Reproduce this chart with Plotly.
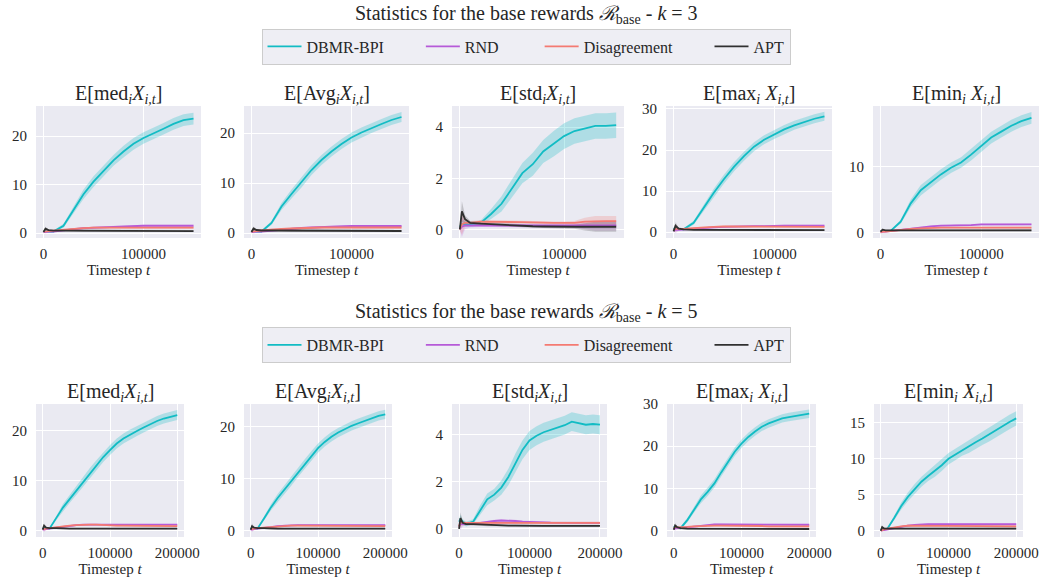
import plotly.graph_objects as go

# ---------------- data ----------------
T3 = [0, 2000, 5000, 10000, 20000, 30000, 40000, 50000, 60000, 70000, 80000,
      90000, 100000, 110000, 120000, 130000, 140000, 150000]
T5 = [0, 2000, 5000, 10000, 20000, 30000, 40000, 50000, 60000, 70000, 80000,
      90000, 100000, 110000, 120000, 130000, 140000, 150000, 160000, 170000,
      180000, 190000, 200000]

METHODS = ["DBMR-BPI", "RND", "Disagreement", "APT"]

# k = 3
MED3_DBMR = [0.3, 0.4, 0.3, 0.3, 1.5, 4.8, 8.0, 10.6, 12.8, 15.0, 16.8, 18.4, 19.6, 20.5, 21.5, 22.5, 23.3, 23.6]
MED3_DBMR_SD = [0.2, 0.3, 0.2, 0.2, 0.4, 0.8, 1.0, 1.1, 1.1, 1.1, 1.2, 1.2, 1.2, 1.2, 1.2, 1.2, 1.2, 1.2]
MED3_RND = [0.2, 0.3, 0.3, 0.3, 0.6, 0.8, 1.0, 1.1, 1.2, 1.3, 1.4, 1.5, 1.5, 1.5, 1.5, 1.5, 1.5, 1.5]
MED3_DIS = [0.3, 0.4, 0.4, 0.5, 0.7, 0.9, 1.0, 1.1, 1.1, 1.2, 1.2, 1.2, 1.1, 1.1, 1.1, 1.1, 1.1, 1.1]
MED3_APT = [0.2, 0.9, 0.6, 0.5, 0.5, 0.5, 0.4, 0.4, 0.4, 0.4, 0.4, 0.4, 0.4, 0.4, 0.4, 0.4, 0.4, 0.4]
MED3_BASE_SD = [0.1, 0.4, 0.2, 0.1, 0.2, 0.2, 0.2, 0.2, 0.2, 0.2, 0.2, 0.2, 0.2, 0.2, 0.2, 0.2, 0.2, 0.2]

AVG3_DBMR = [0.3, 0.4, 0.3, 0.3, 2.0, 5.3, 7.8, 10.1, 12.6, 14.6, 16.3, 17.8, 19.1, 20.1, 21.0, 21.8, 22.6, 23.2]
AVG3_DBMR_SD = [0.2, 0.3, 0.2, 0.2, 0.4, 0.7, 0.9, 1.0, 1.0, 1.0, 1.0, 1.0, 1.0, 1.0, 1.0, 1.0, 1.0, 1.0]
AVG3_RND = [0.2, 0.3, 0.3, 0.3, 0.5, 0.7, 0.9, 1.0, 1.1, 1.2, 1.3, 1.4, 1.4, 1.4, 1.4, 1.4, 1.4, 1.4]
AVG3_DIS = [0.3, 0.4, 0.4, 0.5, 0.7, 0.8, 0.9, 1.0, 1.0, 1.1, 1.1, 1.1, 1.1, 1.1, 1.1, 1.1, 1.1, 1.1]
AVG3_APT = [0.2, 0.9, 0.6, 0.5, 0.5, 0.5, 0.4, 0.4, 0.4, 0.4, 0.4, 0.4, 0.4, 0.4, 0.4, 0.4, 0.4, 0.4]
AVG3_BASE_SD = [0.1, 0.4, 0.2, 0.1, 0.2, 0.2, 0.2, 0.2, 0.2, 0.2, 0.2, 0.2, 0.2, 0.2, 0.2, 0.2, 0.2, 0.2]

STD3_DBMR = [0.1, 0.2, 0.2, 0.2, 0.25, 0.6, 1.0, 1.6, 2.2, 2.55, 3.05, 3.35, 3.65, 3.85, 3.95, 4.05, 4.05, 4.08]
STD3_DBMR_SD = [0.05, 0.1, 0.1, 0.1, 0.1, 0.2, 0.3, 0.35, 0.4, 0.45, 0.45, 0.5, 0.5, 0.5, 0.5, 0.5, 0.5, 0.5]
STD3_RND = [0.0, 0.1, 0.15, 0.15, 0.15, 0.15, 0.15, 0.15, 0.15, 0.15, 0.15, 0.15, 0.15, 0.15, 0.15, 0.15, 0.15, 0.15]
STD3_DIS = [0.0, 0.2, 0.25, 0.25, 0.3, 0.3, 0.3, 0.3, 0.28, 0.27, 0.25, 0.25, 0.25, 0.25, 0.3, 0.32, 0.32, 0.32]
STD3_APT = [0.0, 0.7, 0.4, 0.25, 0.22, 0.2, 0.16, 0.14, 0.12, 0.12, 0.11, 0.1, 0.1, 0.1, 0.1, 0.1, 0.1, 0.1]
STD3_BASE_SD = [0.05, 0.4, 0.15, 0.08, 0.06, 0.06, 0.06, 0.06, 0.06, 0.06, 0.06, 0.06, 0.06, 0.08, 0.15, 0.2, 0.2, 0.2]

MAX3_DBMR = [0.8, 1.0, 0.8, 0.7, 2.3, 6.0, 9.6, 12.9, 15.9, 18.5, 20.8, 22.5, 23.8, 25.0, 26.0, 26.8, 27.6, 28.2]
MAX3_DBMR_SD = [0.3, 0.6, 0.3, 0.3, 0.5, 0.8, 1.0, 1.1, 1.1, 1.1, 1.1, 1.1, 1.1, 1.1, 1.1, 1.1, 1.1, 1.1]
MAX3_RND = [0.3, 0.6, 0.6, 0.7, 0.9, 1.1, 1.2, 1.3, 1.4, 1.5, 1.5, 1.5, 1.6, 1.6, 1.6, 1.6, 1.6, 1.6]
MAX3_DIS = [0.5, 0.9, 0.8, 0.8, 1.0, 1.2, 1.3, 1.4, 1.4, 1.4, 1.4, 1.4, 1.3, 1.3, 1.3, 1.3, 1.3, 1.3]
MAX3_APT = [0.2, 1.6, 0.9, 0.7, 0.6, 0.6, 0.5, 0.5, 0.5, 0.5, 0.5, 0.5, 0.5, 0.5, 0.5, 0.5, 0.5, 0.5]
MAX3_BASE_SD = [0.1, 0.8, 0.3, 0.2, 0.2, 0.2, 0.2, 0.2, 0.2, 0.2, 0.2, 0.2, 0.2, 0.2, 0.2, 0.2, 0.2, 0.2]

MIN3_DBMR = [0.1, 0.2, 0.2, 0.2, 1.6, 4.4, 6.4, 7.6, 8.8, 9.8, 10.6, 11.8, 13.1, 14.4, 15.3, 16.2, 16.9, 17.4]
MIN3_DBMR_SD = [0.1, 0.1, 0.1, 0.1, 0.3, 0.6, 0.8, 0.8, 0.8, 0.8, 0.8, 0.9, 0.9, 0.9, 0.9, 0.9, 0.9, 0.9]
MIN3_RND = [0.0, 0.1, 0.1, 0.2, 0.4, 0.6, 0.8, 0.9, 1.0, 1.0, 1.1, 1.1, 1.2, 1.2, 1.2, 1.2, 1.2, 1.2]
MIN3_DIS = [0.0, 0.1, 0.1, 0.2, 0.4, 0.5, 0.6, 0.7, 0.7, 0.7, 0.7, 0.7, 0.7, 0.7, 0.7, 0.7, 0.7, 0.7]
MIN3_APT = [0.1, 0.4, 0.3, 0.3, 0.3, 0.3, 0.3, 0.3, 0.3, 0.3, 0.3, 0.3, 0.3, 0.3, 0.3, 0.3, 0.3, 0.3]
MIN3_BASE_SD = [0.05, 0.2, 0.1, 0.1, 0.1, 0.1, 0.12, 0.12, 0.12, 0.12, 0.15, 0.15, 0.15, 0.15, 0.15, 0.15, 0.15, 0.15]

# k = 5
MED5_DBMR = [0.3, 0.6, 0.4, 0.4, 2.5, 4.6, 6.3, 8.0, 9.8, 11.5, 13.1, 14.7, 16.1, 17.4, 18.4, 19.2, 19.9, 20.6, 21.3, 21.9, 22.4, 22.8, 23.1]
MED5_DBMR_SD = [0.2, 0.3, 0.2, 0.2, 0.4, 0.7, 0.8, 0.9, 1.0, 1.0, 1.0, 1.0, 1.0, 1.0, 1.0, 1.0, 1.0, 1.0, 1.0, 1.0, 1.0, 1.0, 1.0]
MED5_RND = [0.2, 0.3, 0.3, 0.4, 0.6, 0.8, 1.0, 1.1, 1.2, 1.2, 1.2, 1.2, 1.2, 1.2, 1.2, 1.2, 1.2, 1.2, 1.2, 1.2, 1.2, 1.2, 1.2]
MED5_DIS = [0.3, 0.4, 0.4, 0.5, 0.7, 0.9, 1.0, 1.1, 1.2, 1.2, 1.2, 1.1, 1.1, 1.0, 1.0, 1.0, 1.0, 0.9, 0.9, 0.9, 0.9, 0.9, 0.9]
MED5_APT = [0.2, 1.0, 0.6, 0.5, 0.5, 0.4, 0.4, 0.4, 0.4, 0.4, 0.4, 0.4, 0.4, 0.4, 0.4, 0.4, 0.4, 0.4, 0.4, 0.4, 0.4, 0.4, 0.4]
MED5_BASE_SD = [0.1, 0.5, 0.2, 0.1, 0.15, 0.15, 0.15, 0.15, 0.15, 0.15, 0.15, 0.15, 0.15, 0.15, 0.15, 0.15, 0.15, 0.15, 0.15, 0.15, 0.15, 0.15, 0.15]

AVG5_DBMR = [0.3, 0.6, 0.4, 0.4, 2.4, 4.5, 6.3, 7.9, 9.5, 11.2, 12.8, 14.4, 15.9, 17.1, 18.1, 18.9, 19.6, 20.2, 20.7, 21.2, 21.7, 22.1, 22.4]
AVG5_DBMR_SD = [0.2, 0.3, 0.2, 0.2, 0.4, 0.6, 0.8, 0.9, 0.9, 0.9, 0.9, 0.9, 0.9, 0.9, 0.9, 0.9, 0.9, 0.9, 0.9, 0.9, 0.9, 0.9, 0.9]
AVG5_RND = [0.2, 0.3, 0.3, 0.4, 0.5, 0.7, 0.9, 1.0, 1.1, 1.1, 1.1, 1.1, 1.1, 1.1, 1.1, 1.1, 1.1, 1.1, 1.1, 1.1, 1.1, 1.1, 1.1]
AVG5_DIS = [0.3, 0.4, 0.4, 0.5, 0.6, 0.8, 0.9, 1.0, 1.0, 1.0, 1.0, 1.0, 1.0, 0.9, 0.9, 0.9, 0.9, 0.9, 0.9, 0.9, 0.9, 0.9, 0.9]
AVG5_APT = [0.2, 0.9, 0.6, 0.5, 0.5, 0.4, 0.4, 0.4, 0.4, 0.4, 0.4, 0.4, 0.4, 0.4, 0.4, 0.4, 0.4, 0.4, 0.4, 0.4, 0.4, 0.4, 0.4]
AVG5_BASE_SD = [0.1, 0.5, 0.2, 0.1, 0.15, 0.15, 0.15, 0.15, 0.15, 0.15, 0.15, 0.15, 0.15, 0.15, 0.15, 0.15, 0.15, 0.15, 0.15, 0.15, 0.15, 0.15, 0.15]

STD5_DBMR = [0.3, 0.4, 0.3, 0.2, 0.3, 0.8, 1.25, 1.45, 1.75, 2.2, 2.8, 3.35, 3.75, 3.95, 4.1, 4.2, 4.3, 4.4, 4.55, 4.5, 4.42, 4.45, 4.42]
STD5_DBMR_SD = [0.1, 0.2, 0.1, 0.1, 0.1, 0.2, 0.25, 0.25, 0.3, 0.35, 0.4, 0.4, 0.4, 0.4, 0.4, 0.4, 0.4, 0.4, 0.4, 0.4, 0.4, 0.4, 0.4]
STD5_RND = [0.1, 0.2, 0.2, 0.2, 0.2, 0.25, 0.3, 0.33, 0.35, 0.35, 0.33, 0.3, 0.3, 0.28, 0.27, 0.26, 0.25, 0.25, 0.25, 0.25, 0.25, 0.25, 0.25]
STD5_DIS = [0.1, 0.3, 0.25, 0.25, 0.25, 0.25, 0.25, 0.25, 0.25, 0.25, 0.25, 0.25, 0.25, 0.25, 0.25, 0.25, 0.25, 0.25, 0.25, 0.25, 0.25, 0.25, 0.25]
STD5_APT = [0.0, 0.45, 0.25, 0.2, 0.2, 0.18, 0.16, 0.15, 0.14, 0.13, 0.13, 0.12, 0.12, 0.12, 0.12, 0.12, 0.12, 0.12, 0.12, 0.12, 0.12, 0.12, 0.12]
STD5_BASE_SD = [0.05, 0.25, 0.1, 0.05, 0.05, 0.05, 0.05, 0.05, 0.05, 0.05, 0.05, 0.05, 0.05, 0.05, 0.05, 0.05, 0.05, 0.05, 0.05, 0.05, 0.05, 0.05, 0.05]

MAX5_DBMR = [0.8, 1.0, 0.8, 0.6, 2.5, 5.0, 7.4, 9.2, 11.2, 13.8, 16.4, 18.7, 20.6, 22.2, 23.5, 24.6, 25.4, 26.0, 26.6, 26.9, 27.2, 27.5, 27.7]
MAX5_DBMR_SD = [0.3, 0.5, 0.3, 0.3, 0.5, 0.7, 0.9, 1.0, 1.0, 1.0, 1.0, 1.0, 1.0, 1.0, 1.0, 1.0, 1.0, 1.0, 1.0, 1.0, 1.0, 1.0, 1.0]
MAX5_RND = [0.3, 0.6, 0.6, 0.6, 0.8, 1.0, 1.2, 1.4, 1.5, 1.5, 1.5, 1.5, 1.5, 1.5, 1.5, 1.5, 1.5, 1.4, 1.4, 1.4, 1.4, 1.4, 1.4]
MAX5_DIS = [0.5, 0.9, 0.8, 0.8, 0.9, 1.0, 1.1, 1.2, 1.2, 1.2, 1.2, 1.2, 1.1, 1.1, 1.1, 1.1, 1.0, 1.0, 1.0, 1.0, 1.0, 1.0, 1.0]
MAX5_APT = [0.2, 1.2, 0.8, 0.6, 0.5, 0.5, 0.4, 0.4, 0.4, 0.4, 0.4, 0.4, 0.4, 0.4, 0.4, 0.4, 0.4, 0.4, 0.4, 0.4, 0.4, 0.4, 0.4]
MAX5_BASE_SD = [0.1, 0.6, 0.3, 0.2, 0.2, 0.2, 0.2, 0.2, 0.2, 0.2, 0.2, 0.2, 0.2, 0.2, 0.2, 0.2, 0.2, 0.2, 0.2, 0.2, 0.2, 0.2, 0.2]

MIN5_DBMR = [0.1, 0.2, 0.2, 0.3, 1.8, 3.4, 4.7, 5.8, 6.8, 7.6, 8.3, 9.1, 10.0, 10.6, 11.2, 11.7, 12.3, 12.8, 13.4, 14.0, 14.6, 15.1, 15.6]
MIN5_DBMR_SD = [0.1, 0.1, 0.1, 0.1, 0.3, 0.5, 0.6, 0.7, 0.7, 0.7, 0.8, 0.8, 0.8, 0.8, 0.8, 0.9, 0.9, 0.9, 1.0, 1.0, 1.0, 1.0, 1.0]
MIN5_RND = [0.0, 0.1, 0.1, 0.2, 0.4, 0.6, 0.7, 0.8, 0.9, 0.9, 0.9, 0.9, 0.9, 0.9, 0.9, 0.9, 0.9, 0.9, 0.9, 0.9, 0.9, 0.9, 0.9]
MIN5_DIS = [0.0, 0.1, 0.2, 0.3, 0.5, 0.6, 0.7, 0.7, 0.7, 0.7, 0.7, 0.6, 0.6, 0.6, 0.6, 0.6, 0.6, 0.6, 0.6, 0.6, 0.6, 0.6, 0.6]
MIN5_APT = [0.0, 0.5, 0.3, 0.3, 0.3, 0.3, 0.3, 0.3, 0.3, 0.3, 0.3, 0.3, 0.3, 0.3, 0.3, 0.3, 0.3, 0.3, 0.3, 0.3, 0.3, 0.3, 0.3]
MIN5_BASE_SD = [0.05, 0.25, 0.1, 0.1, 0.1, 0.1, 0.12, 0.12, 0.12, 0.12, 0.12, 0.12, 0.12, 0.12, 0.12, 0.12, 0.12, 0.12, 0.12, 0.12, 0.12, 0.12, 0.12]

TITLES = [
    "E[med<sub><i>i</i></sub><i>X</i><sub><i>i,t</i></sub>]",
    "E[Avg<sub><i>i</i></sub><i>X</i><sub><i>i,t</i></sub>]",
    "E[std<sub><i>i</i></sub><i>X</i><sub><i>i,t</i></sub>]",
    "E[max<sub><i>i</i></sub> <i>X</i><sub><i>i,t</i></sub>]",
    "E[min<sub><i>i</i></sub> <i>X</i><sub><i>i,t</i></sub>]",
]
SUPTITLES = ["Statistics for the base rewards <i>ℛ</i><sub>base</sub> - <i>k</i> = 3",
             "Statistics for the base rewards <i>ℛ</i><sub>base</sub> - <i>k</i> = 5"]
XTICKS3 = [0, 100000]
XTICKS5 = [0, 100000, 200000]
YTICKS = [[0, 10, 20], [0, 10, 20], [0, 2, 4], [0, 10, 20, 30], [0, 10],
          [0, 10, 20], [0, 10, 20], [0, 2, 4], [0, 10, 20, 30], [0, 5, 10, 15]]

PANELS = [
    (T3, MED3_DBMR, MED3_DBMR_SD, MED3_RND, MED3_DIS, MED3_APT, MED3_BASE_SD),
    (T3, AVG3_DBMR, AVG3_DBMR_SD, AVG3_RND, AVG3_DIS, AVG3_APT, AVG3_BASE_SD),
    (T3, STD3_DBMR, STD3_DBMR_SD, STD3_RND, STD3_DIS, STD3_APT, STD3_BASE_SD),
    (T3, MAX3_DBMR, MAX3_DBMR_SD, MAX3_RND, MAX3_DIS, MAX3_APT, MAX3_BASE_SD),
    (T3, MIN3_DBMR, MIN3_DBMR_SD, MIN3_RND, MIN3_DIS, MIN3_APT, MIN3_BASE_SD),
    (T5, MED5_DBMR, MED5_DBMR_SD, MED5_RND, MED5_DIS, MED5_APT, MED5_BASE_SD),
    (T5, AVG5_DBMR, AVG5_DBMR_SD, AVG5_RND, AVG5_DIS, AVG5_APT, AVG5_BASE_SD),
    (T5, STD5_DBMR, STD5_DBMR_SD, STD5_RND, STD5_DIS, STD5_APT, STD5_BASE_SD),
    (T5, MAX5_DBMR, MAX5_DBMR_SD, MAX5_RND, MAX5_DIS, MAX5_APT, MAX5_BASE_SD),
    (T5, MIN5_DBMR, MIN5_DBMR_SD, MIN5_RND, MIN5_DIS, MIN5_APT, MIN5_BASE_SD),
]

# ---------------- style / layout ----------------
W, H = 1052, 583
FONT = "Liberation Serif, DejaVu Serif, serif"
TEXT = "#262626"
LINE_COLORS = ["#12BCC4", "#B65AD8", "#F47A72", "#303030"]
FILL_COLORS = ["rgba(18,188,196,0.27)", "rgba(182,90,216,0.22)",
               "rgba(244,122,114,0.25)", "rgba(48,48,48,0.22)"]
NBSP = "\u00a0"
LEGEND_PAD = [8, 9, 8, 0]  # column spacing between legend entries (in spaces)

X_BOX = [(36, 201), (244, 409), (452, 624), (666, 832), (873, 1039),
         (36, 184), (244, 392), (452, 607), (667, 816), (874, 1023)]
Y_BOX = [(106, 238), (404, 537)]
Y_RANGES = [(-1.03, 26.2), (-1.0, 25.4), (-0.34, 4.83), (-1.4, 30.7), (-0.87, 19.2),
            (-1.27, 25.3), (-1.2, 24.4), (-0.35, 5.3), (-1.5, 30.0), (-0.87, 17.6)]
X_RANGES = [(-7500, 157500), (-10000, 210000)]

fig = go.Figure()

for p, (t, dbmr, dbmr_sd, rnd, dis, apt, base_sd) in enumerate(PANELS):
    ax = "" if p == 0 else str(p + 1)
    row = 0 if p < 5 else 1
    series = [(dbmr, dbmr_sd), (rnd, base_sd), (dis, base_sd), (apt, base_sd)]
    for m, (mean, sd) in enumerate(series):
        upper = [a + b for a, b in zip(mean, sd)]
        lower = [a - b for a, b in zip(mean, sd)]
        fig.add_trace(go.Scatter(x=t, y=upper, xaxis="x" + ax, yaxis="y" + ax,
                                 mode="lines", line=dict(width=0, color=FILL_COLORS[m]),
                                 showlegend=False, hoverinfo="skip"))
        fig.add_trace(go.Scatter(x=t, y=lower, xaxis="x" + ax, yaxis="y" + ax,
                                 mode="lines", line=dict(width=0, color=FILL_COLORS[m]),
                                 fill="tonexty", fillcolor=FILL_COLORS[m],
                                 showlegend=False, hoverinfo="skip"))
    for m, (mean, sd) in enumerate(series):
        fig.add_trace(go.Scatter(x=t, y=mean, xaxis="x" + ax, yaxis="y" + ax,
                                 mode="lines", name=METHODS[m] + NBSP * LEGEND_PAD[m],
                                 line=dict(color=LINE_COLORS[m], width=1.8),
                                 showlegend=(p % 5 == 0),
                                 legend="legend" if row == 0 else "legend2"))

    x0, x1 = X_BOX[p]
    y0, y1 = Y_BOX[row]
    axis_common = dict(showgrid=True, gridcolor="white", gridwidth=1.2, zeroline=False,
                       showline=False, ticks="", color=TEXT, automargin=False,
                       tickfont=dict(family=FONT, size=15, color=TEXT))
    fig.update_layout({
        "xaxis" + ax: dict(axis_common, domain=[x0 / W, x1 / W], anchor="y" + ax,
                           range=list(X_RANGES[row]),
                           tickvals=XTICKS3 if row == 0 else XTICKS5,
                           ticktext=[str(v) for v in (XTICKS3 if row == 0 else XTICKS5)],
                           ticklabelstandoff=5,
                           title=dict(text="Timestep <i>t</i>", standoff=2,
                                      font=dict(family=FONT, size=15, color=TEXT))),
        "yaxis" + ax: dict(axis_common, domain=[1 - y1 / H, 1 - y0 / H], anchor="x" + ax,
                           range=list(Y_RANGES[p]), tickvals=YTICKS[p],
                           ticklabelstandoff=8),
    })
    fig.add_annotation(text=TITLES[p % 5], xref="paper", yref="paper",
                       x=(x0 + x1) / 2 / W, y=1 - (y0 + 3) / H,
                       xanchor="center", yanchor="bottom", showarrow=False,
                       font=dict(family=FONT, size=20, color=TEXT))

fig.add_annotation(text=SUPTITLES[0], xref="paper", yref="paper",
                   x=0.5, y=1.0, xanchor="center", yanchor="top",
                   showarrow=False, font=dict(family=FONT, size=20, color=TEXT))
fig.add_annotation(text=SUPTITLES[1], xref="paper", yref="paper",
                   x=0.5, y=1 - 312 / H, xanchor="center", yanchor="middle",
                   showarrow=False, font=dict(family=FONT, size=20, color=TEXT))

legend_common = dict(orientation="h", x=0.5, xanchor="center", yanchor="middle",
                     bgcolor="#EEEEF4", bordercolor="#CCCCCC", borderwidth=1,
                     font=dict(family=FONT, size=16, color=TEXT),
                     itemwidth=34, traceorder="normal")
fig.update_layout(
    width=W, height=H,
    margin=dict(l=0, r=0, t=0, b=0, autoexpand=False),
    paper_bgcolor="white",
    plot_bgcolor="#EAEAF2",
    font=dict(family=FONT, color=TEXT),
    showlegend=True,
    legend=dict(legend_common, y=1 - 46.5 / H),
    legend2=dict(legend_common, y=1 - 345 / H),
)

fig.write_html("out.html")
